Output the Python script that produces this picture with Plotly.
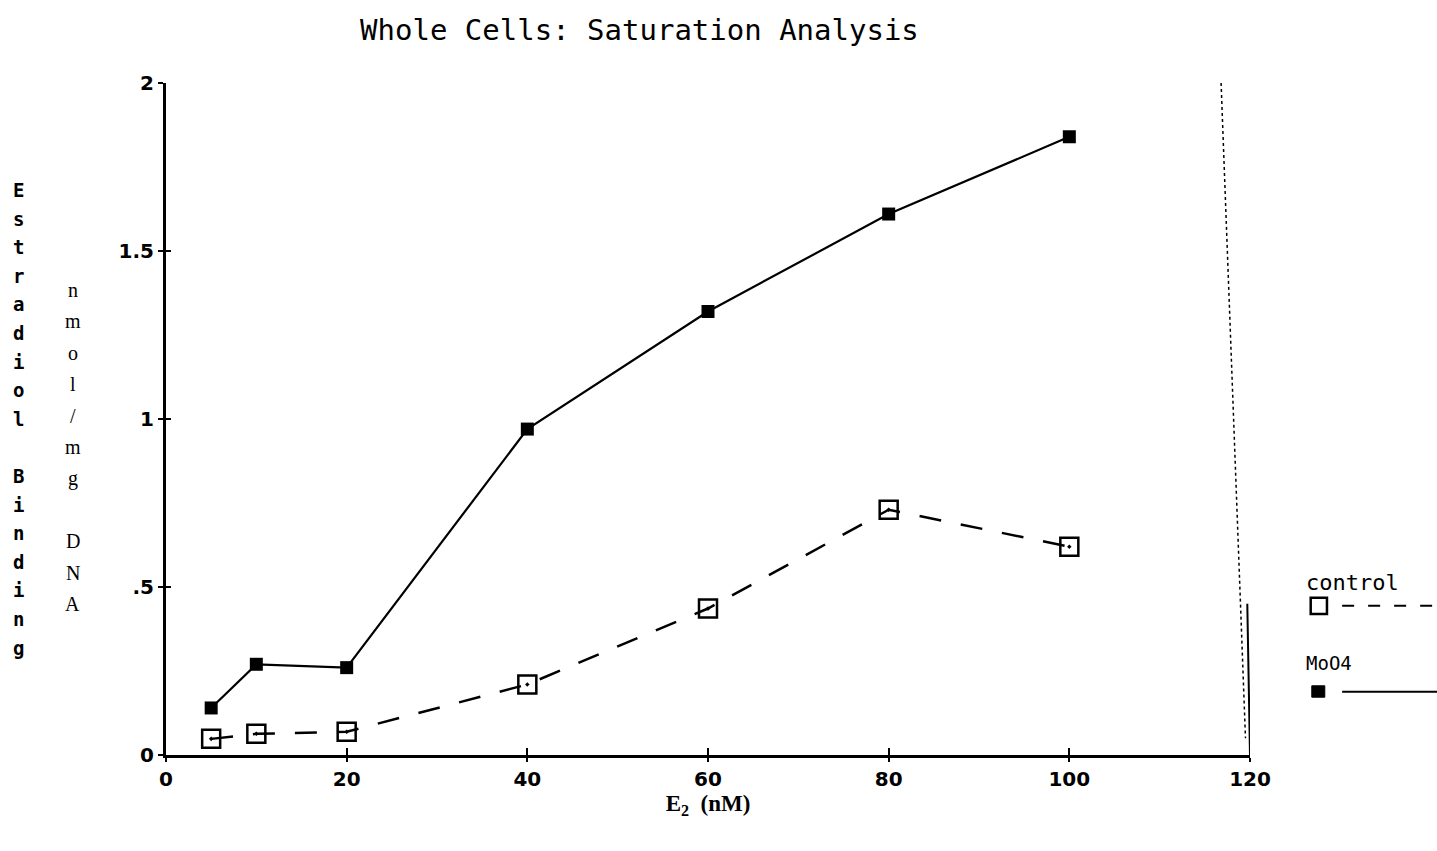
import plotly.graph_objects as go

# ---- data ----
conc = [5, 10, 20, 40, 60, 80, 100]
control = [0.048, 0.063, 0.069, 0.21, 0.436, 0.73, 0.62]
moo4 = [0.14, 0.27, 0.26, 0.97, 1.32, 1.61, 1.84]

x_ticks = [0, 20, 40, 60, 80, 100, 120]
x_ticklabels = ["0", "20", "40", "60", "80", "100", "120"]
y_ticks = [0, 0.5, 1, 1.5, 2]
y_ticklabels = ["0", ".5", "1", "1.5", "2"]

title_text = "Whole Cells: Saturation Analysis"
x_title = "E<sub>2</sub>  (nM)"
y_title1 = "Estradiol Binding"
y_title2 = "nmol/mg DNA"

MONO = "DejaVu Sans Mono"
SERIF = "Liberation Serif"

fig = go.Figure()
fig.add_trace(go.Scatter(
    x=conc, y=moo4, mode="lines+markers", name="MoO4",
    line=dict(color="black", width=2.2),
    marker=dict(symbol="square", size=13, color="black"),
    showlegend=False))
fig.add_trace(go.Scatter(
    x=conc, y=control, mode="lines+markers", name="control",
    line=dict(color="black", width=2.5, dash="22px,20px"),
    marker=dict(symbol="square-open-dot", size=18, color="black",
                line=dict(width=2.5, color="black")),
    showlegend=False))

# empty trace on overlay axes for the inner halves of the cross ticks
fig.add_trace(go.Scatter(x=[None], y=[None], xaxis="x2", yaxis="y2",
                         showlegend=False, hoverinfo="skip"))

tickfont = dict(family="DejaVu Sans", size=20, color="black", weight="bold")

fig.update_layout(
    width=1437, height=851,
    paper_bgcolor="white", plot_bgcolor="white",
    margin=dict(l=166, r=187, t=83, b=96),
    title=dict(text=title_text, x=0.445, xanchor="center", y=0.965,
               yanchor="middle", font=dict(family=MONO, size=29, color="black")),
    xaxis=dict(range=[0, 120], tickvals=x_ticks, ticktext=x_ticklabels,
               showgrid=False, zeroline=False, showline=True, linecolor="black",
               linewidth=2.5, ticks="outside", ticklen=4, tickwidth=2,
               tickcolor="black", tickfont=tickfont,
               title=dict(text=x_title, font=dict(family=SERIF, size=23, color="black",
                                                  weight="bold"),
                          standoff=0)),
    yaxis=dict(range=[0, 2], tickvals=y_ticks, ticktext=y_ticklabels,
               showgrid=False, zeroline=False, showline=True, linecolor="black",
               linewidth=3, ticks="outside", ticklen=5, tickwidth=2,
               tickcolor="black", tickfont=tickfont),
    xaxis2=dict(range=[0, 120], overlaying="x", tickvals=x_ticks[1:],
                showticklabels=False, showgrid=False, zeroline=False,
                ticks="inside", ticklen=7, tickwidth=2, tickcolor="black"),
    yaxis2=dict(range=[0, 2], overlaying="y", tickvals=y_ticks[1:],
                showticklabels=False, showgrid=False, zeroline=False,
                ticks="inside", ticklen=5, tickwidth=2, tickcolor="black"),
)

# top and right frame lines
fig.add_shape(type="line", xref="x", yref="y", x0=0, x1=115, y0=2.02, y1=2.02,
              line=dict(color="black", width=2))
fig.add_shape(type="line", xref="x", yref="y", x0=116.8, x1=119.5, y0=2.0, y1=0.05,
              line=dict(color="black", width=1.5, dash="dot"))
fig.add_shape(type="line", xref="x", yref="y", x0=119.7, x1=120, y0=0.45, y1=0,
              line=dict(color="black", width=2))

# stacked vertical y titles, one character per row
plot_h = 851 - 83 - 96


def stack(text, x_paper, top_px, step_px, font):
    for i, ch in enumerate(text):
        if ch == " ":
            continue
        ypx = top_px + i * step_px
        fig.add_annotation(text=ch, xref="paper", yref="paper", x=x_paper,
                           y=(851 - 96 - ypx) / plot_h, xanchor="center",
                           yanchor="middle", showarrow=False, font=font)


stack(y_title1, -0.1365, 190, 28.6,
      dict(family=MONO, size=19, color="black", weight="bold"))
stack(y_title2, -0.0858, 290, 31.4,
      dict(family=SERIF, size=20, color="black"))

# custom legend (text above sample)
fig.add_annotation(text="control", xref="paper", yref="paper", x=1.050, y=0.256,
                   xanchor="left", yanchor="middle", showarrow=False,
                   font=dict(family=MONO, size=22, color="black"))
fig.add_shape(type="rect", xref="paper", yref="paper", x0=1.056, x1=1.071,
              y0=0.210, y1=0.234, line=dict(color="black", width=2.5))
fig.add_shape(type="line", xref="paper", yref="paper", x0=1.085, x1=1.18,
              y0=0.222, y1=0.222, line=dict(color="black", width=2, dash="12px,14px"))
fig.add_annotation(text="MoO4", xref="paper", yref="paper", x=1.050, y=0.137,
                   xanchor="left", yanchor="middle", showarrow=False,
                   font=dict(family=MONO, size=19, color="black"))
fig.add_shape(type="rect", xref="paper", yref="paper", x0=1.057, x1=1.069,
              y0=0.086, y1=0.103, fillcolor="black", line=dict(color="black", width=1))
fig.add_shape(type="line", xref="paper", yref="paper", x0=1.085, x1=1.18,
              y0=0.094, y1=0.094, line=dict(color="black", width=2))

fig.write_html("out.html")
